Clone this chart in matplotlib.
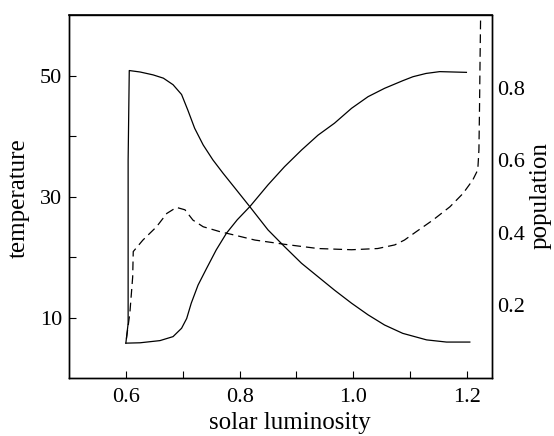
import matplotlib
matplotlib.use('Agg')
import matplotlib.pyplot as plt

# daisyworld style run: daisy areas (right axis) and temperature (left axis) vs luminosity
lum_black = [0.600, 0.604, 0.604, 0.606, 0.625, 0.648, 0.666, 0.683, 0.698, 0.709,
             0.721, 0.736, 0.753, 0.771, 0.792, 0.818, 0.850, 0.879, 0.909, 0.938,
             0.967, 0.997, 1.026, 1.055, 1.087, 1.129, 1.164, 1.205]
pop_black = [0.096, 0.150, 0.600, 0.847, 0.843, 0.835, 0.826, 0.808, 0.781, 0.738,
             0.688, 0.642, 0.601, 0.564, 0.523, 0.472, 0.408, 0.362, 0.316, 0.279,
             0.242, 0.206, 0.174, 0.146, 0.123, 0.105, 0.099, 0.099]

lum_white = [0.600, 0.625, 0.660, 0.683, 0.698, 0.707, 0.715, 0.727, 0.742, 0.759,
             0.777, 0.796, 0.818, 0.850, 0.879, 0.909, 0.938, 0.967, 0.997, 1.026,
             1.055, 1.087, 1.105, 1.128, 1.152, 1.199]
pop_white = [0.096, 0.097, 0.103, 0.114, 0.137, 0.164, 0.206, 0.256, 0.302, 0.353,
             0.399, 0.436, 0.472, 0.532, 0.582, 0.628, 0.669, 0.702, 0.743, 0.775,
             0.798, 0.819, 0.830, 0.839, 0.844, 0.842]

lum_temp = [0.601, 0.607, 0.612, 0.613, 0.630, 0.654, 0.672, 0.689, 0.704, 0.718,
            0.736, 0.765, 0.792, 0.827, 0.879, 0.938, 0.997, 1.043, 1.073, 1.090,
            1.111, 1.140, 1.170, 1.193, 1.210, 1.219, 1.221, 1.222, 1.223, 1.224]
temp = [6.5, 10.7, 16.7, 20.9, 22.8, 25.0, 27.2, 28.2, 27.8, 26.1,
        25.0, 24.2, 23.6, 22.8, 22.1, 21.4, 21.2, 21.4, 22.0, 22.8,
        24.2, 26.1, 28.3, 30.5, 32.7, 34.4, 37.7, 44.3, 52.6, 60.0]

x_ticks = [0.6, 0.8, 1.0, 1.2]
t_ticks = [10, 30, 50]
p_ticks = [0.2, 0.4, 0.6, 0.8]

plt.rcParams['font.family'] = ['Liberation Serif', 'DejaVu Serif']
plt.rcParams['font.size'] = 16

fig = plt.figure(figsize=(5.54, 4.36), dpi=100)
ax = fig.add_axes([69/554, 1-378/436, 423/554, 363/436])
ax2 = ax.twinx()

ax.plot(lum_temp, temp, color='k', linewidth=0.9, linestyle=(0, (7, 4)))
ax2.plot(lum_black, pop_black, color='k', linewidth=0.9)
ax2.plot(lum_white, pop_white, color='k', linewidth=0.9)

ax.set_xlim(0.5, 1.244)
ax.set_ylim(0, 60)
ax2.set_ylim(0, 1.0)

ax.set_xticks(x_ticks)
ax.set_xticks([0.7, 0.9, 1.1], minor=True)
ax.set_yticks(t_ticks)
ax.set_yticks([20, 40], minor=True)
ax2.set_yticks(p_ticks)

ax.tick_params(axis='both', which='both', direction='in', length=5, width=0.8,
               top=False, right=False)
ax.tick_params(axis='y', pad=5)
ax.tick_params(axis='x', pad=7)
ax2.tick_params(axis='y', length=0, pad=4)

for a in (ax, ax2):
    for s in a.spines.values():
        s.set_linewidth(1.0)
ax.spines['top'].set_linewidth(1.2)

fig.text(19/554, 1-198/436, 'temperature', rotation=90, ha='center', va='center', fontsize=18)
fig.text(541/554, 1-196/436, 'population', rotation=90, ha='center', va='center', fontsize=18)
fig.text(290/554, 1-423/436, 'solar luminosity', ha='center', va='center', fontsize=18)

fig.savefig('out.png', dpi=100)
